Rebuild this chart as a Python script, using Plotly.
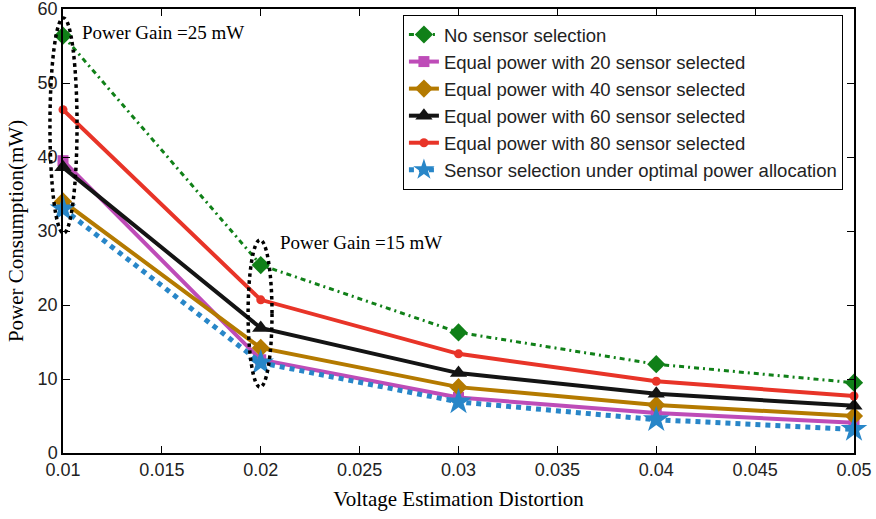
import plotly.graph_objects as go

distortion = [0.01, 0.02, 0.03, 0.04, 0.05]
no_selection = [56.4, 25.4, 16.3, 12.0, 9.5]
equal_20 = [39.5, 12.6, 7.5, 5.4, 4.1]
equal_40 = [34.0, 14.2, 8.9, 6.5, 5.0]
equal_60 = [38.6, 16.9, 10.8, 8.0, 6.4]
equal_80 = [46.4, 20.7, 13.4, 9.7, 7.7]
optimal = [33.0, 12.2, 6.9, 4.5, 3.2]

names = [
    "No sensor selection",
    "Equal power with 20 sensor selected",
    "Equal power with 40 sensor selected",
    "Equal power with 60 sensor selected",
    "Equal power with 80 sensor selected",
    "Sensor selection under optimal power allocation",
]

x_ticks = [0.01, 0.015, 0.02, 0.025, 0.03, 0.035, 0.04, 0.045, 0.05]
x_tick_labels = ["0.01", "0.015", "0.02", "0.025", "0.03", "0.035", "0.04", "0.045", "0.05"]
y_ticks = [0, 10, 20, 30, 40, 50, 60]

x_range = [0.01, 0.05]
y_range = [0, 60]

# ellipse annotations (data coordinates)
ellipses = [
    dict(x0=0.00934, x1=0.01071, y0=29.7, y1=58.8),
    dict(x0=0.01936, x1=0.02057, y0=8.9, y1=28.8),
]
gain_texts = ["Power Gain =25 mW", "Power Gain =15 mW"]
gain_pos = [(0.01086, 56.8), (0.02087, 28.5)]

fig = go.Figure()

styles = [
    dict(y=no_selection, color="rgb(16,128,24)", width=3, dash="5px,4px,2px,4px", symbol="diamond", size=14),
    dict(y=equal_20, color="rgb(190,76,184)", width=4, dash="solid", symbol="square", size=11),
    dict(y=equal_40, color="rgb(180,122,0)", width=4, dash="solid", symbol="diamond", size=14),
    dict(y=equal_60, color="rgb(20,20,20)", width=4, dash="solid", symbol="triangle-up", size=15),
    dict(y=equal_80, color="rgb(232,52,40)", width=4, dash="solid", symbol="circle", size=9),
    dict(y=optimal, color="rgb(40,134,200)", width=5, dash="dot", symbol="star", size=20),
]

for name, s in zip(names, styles):
    fig.add_trace(go.Scatter(
        x=distortion, y=s["y"], name=name, mode="lines+markers",
        line=dict(color=s["color"], width=s["width"], dash=s["dash"]),
        marker=dict(symbol=s["symbol"], size=s["size"], color=s["color"], line=dict(width=0)),
        cliponaxis=False,
    ))

span = x_range[1] - x_range[0]
for e in ellipses:
    fig.add_shape(
        type="circle", xref="x domain", yref="y domain",
        x0=(e["x0"] - x_range[0]) / span, x1=(e["x1"] - x_range[0]) / span,
        y0=e["y0"] / y_range[1], y1=e["y1"] / y_range[1],
        line=dict(color="black", width=3.5, dash="dot"), layer="above",
    )

for t, (ax, ay) in zip(gain_texts, gain_pos):
    fig.add_annotation(x=ax, y=ay, xref="x", yref="y", text=t, showarrow=False,
                       xanchor="left", yanchor="middle",
                       font=dict(family="Liberation Serif", size=19, color="black"))

axis_common = dict(
    showline=True, linecolor="black", linewidth=1.5, mirror="ticks",
    ticks="inside", ticklen=7, tickwidth=1, tickcolor="black",
    showgrid=False, zeroline=False, automargin=False, ticklabeloverflow="allow",
    tickfont=dict(family="Liberation Sans", size=18, color="#222"),
)

fig.update_xaxes(range=x_range, tickvals=x_ticks, ticktext=x_tick_labels,
                 title=dict(text="Voltage Estimation Distortion", standoff=12,
                            font=dict(family="Liberation Serif", size=21, color="black")),
                 **axis_common)
fig.update_yaxes(range=y_range, tickvals=y_ticks,
                 title=dict(text="Power Consumption(mW)", standoff=8,
                            font=dict(family="Liberation Serif", size=21, color="black")),
                 **axis_common)

fig.update_layout(
    width=876, height=519,
    margin=dict(l=63, r=22, t=9, b=66, autoexpand=False),
    paper_bgcolor="white", plot_bgcolor="white",
    showlegend=True,
    legend=dict(x=0.986, y=0.9865, xanchor="right", yanchor="top",
                bgcolor="white", bordercolor="black", borderwidth=1,
                font=dict(family="Liberation Sans", size=18.5, color="#222"),
                tracegroupgap=0, itemwidth=30),
)

fig.write_html("out.html")
